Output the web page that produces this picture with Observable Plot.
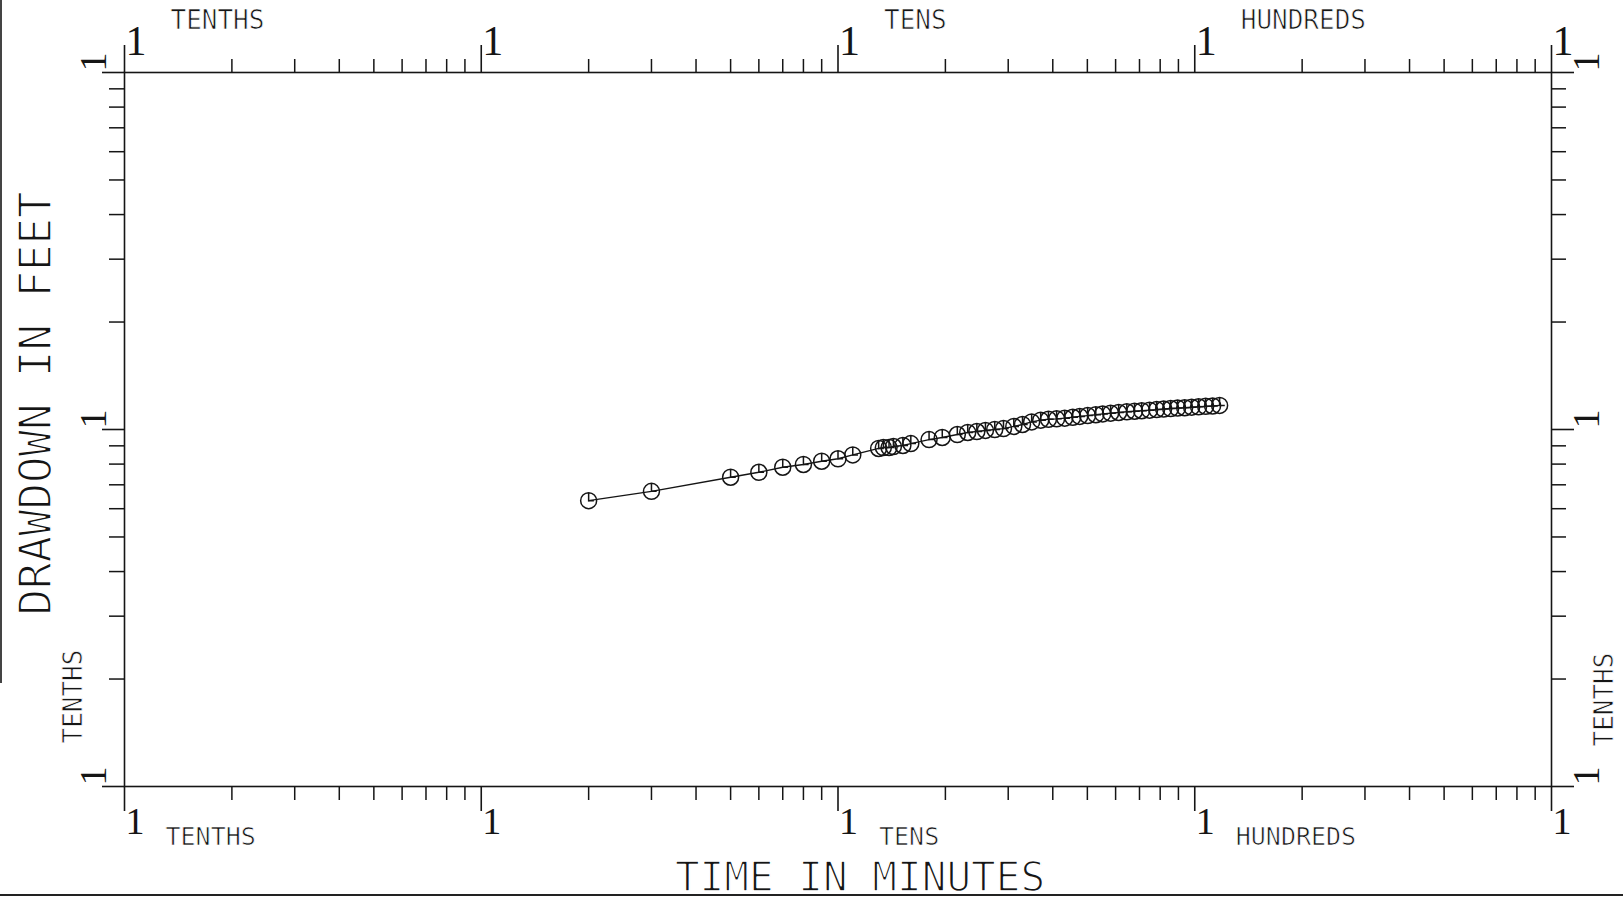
<!DOCTYPE html>
<html>
<head>
<meta charset="utf-8">
<script src="https://cdn.jsdelivr.net/npm/d3@7"></script>
<script src="https://cdn.jsdelivr.net/npm/@observablehq/plot@0.6"></script>
<style>
  html, body { margin: 0; padding: 0; background: #fff; }
  #wrap { position: relative; width: 1623px; height: 900px; overflow: hidden; background: #fff; }
  #chart svg { display: block; }
  #edgeL { position: absolute; left: 0; top: 0; width: 2px; height: 683px; background: #444; }
  #edgeB { position: absolute; left: 0; top: 894px; width: 1623px; height: 2px; background: #222; }
</style>
</head>
<body>
<div id="wrap"><div id="chart"></div><div id="edgeL"></div><div id="edgeB"></div></div>
<script>
// ---- data (time in minutes, drawdown in feet) ----
const timeMin = [2, 3, 5, 6, 7, 8, 9, 10, 11, 13, 13.4, 13.9, 14.3, 15.2, 16, 18, 19.6, 21.6, 23.1,
  24.5, 25.9, 27.5, 29.1, 31.1, 32.9, 34.9, 37, 38.9, 41, 43.2, 45.5, 47.6, 50.1, 52.8, 55.2, 58.1,
  61.2, 64.5, 67.8, 71, 74.7, 78.2, 81.8, 85.6, 89.5, 93.7, 98, 102.5, 107.3, 112.2, 117.4];
const drawdownFt = [0.632, 0.671, 0.735, 0.759, 0.784, 0.798, 0.815, 0.828, 0.849, 0.885, 0.890, 0.890,
  0.896, 0.902, 0.913, 0.937, 0.950, 0.968, 0.981, 0.987, 0.994, 1.000, 1.006, 1.020, 1.033, 1.050,
  1.062, 1.068, 1.071, 1.076, 1.082, 1.088, 1.094, 1.100, 1.106, 1.111, 1.116, 1.121, 1.125, 1.129,
  1.133, 1.137, 1.141, 1.145, 1.148, 1.151, 1.155, 1.158, 1.161, 1.164, 1.168];

// ---- axis tick values and labels ----
const xMajor = [0.1, 1, 10, 100, 1000];
const yMajor = [0.1, 1, 10];
const minorMultipliers = [2, 3, 4, 5, 6, 7, 8, 9];
const majorLabel = "1";
const xDecadeNames = ["TENTHS", "TENS", "HUNDREDS"];
const xDecadeStarts = [0.1, 10, 100];
const yDecadeNames = ["TENTHS"];
const yDecadeStarts = [0.1];
const xTitle = "TIME IN MINUTES";
const yTitle = "DRAWDOWN IN FEET";

// ---- tables built from the arrays ----
const points = timeMin.map((t, i) => ({t, s: drawdownFt[i]}));
const xMinor = xMajor.slice(0, -1).flatMap(d => minorMultipliers.map(m => d * m));
const yMinor = yMajor.slice(0, -1).flatMap(d => minorMultipliers.map(m => d * m));
const xNames = xDecadeNames.map((name, i) => ({name, at: xDecadeStarts[i]}));
const yNames = yDecadeNames.map((name, i) => ({name, at: yDecadeStarts[i]}));

const ink = "#151515";
const mono = "DejaVu Sans Mono, monospace";
const serif = "Liberation Serif, DejaVu Serif, serif";
// thin the sans glyphs a little (plotter pen look)
const thinSmall = {stroke: "#fff", strokeWidth: 0.7, paintOrder: "normal"};
const thinLarge = {stroke: "#fff", strokeWidth: 1.5, paintOrder: "normal"};

// plotter-style observation marker: circle with a "clock hand"
const obsSymbol = {
  draw(ctx, size) {
    const r = Math.sqrt(size / Math.PI);
    ctx.moveTo(r, 0);
    ctx.arc(0, 0, r, 0, 2 * Math.PI);
    ctx.moveTo(0, -r);
    ctx.lineTo(0, 0);
    ctx.lineTo(r * 0.65, 0);
  }
};

const noText = () => "";
const chart = Plot.plot({
  width: 1623,
  height: 900,
  marginLeft: 124,
  marginRight: 72,
  marginTop: 72,
  marginBottom: 114,
  x: {type: "log", domain: [0.1, 1000]},
  y: {type: "log", domain: [0.1, 10]},
  style: {fontFamily: mono, color: ink, background: "#fff", overflow: "visible"},
  marks: [
    Plot.frame({stroke: ink, strokeWidth: 1.6}),
    // top axis
    Plot.axisX({anchor: "top", ticks: xMajor, tickSize: 28, tickFormat: noText, label: null, strokeWidth: 1.6}),
    Plot.axisX({anchor: "top", ticks: xMinor, tickSize: 14, tickFormat: noText, label: null, strokeWidth: 1.5}),
    // bottom axis
    Plot.axisX({anchor: "bottom", ticks: xMajor, tickSize: 25, tickFormat: noText, label: null, strokeWidth: 1.6}),
    Plot.axisX({anchor: "bottom", ticks: xMinor, tickSize: 14, tickFormat: noText, label: null, strokeWidth: 1.5}),
    // left axis
    Plot.axisY({anchor: "left", ticks: yMajor, tickSize: 22, tickFormat: noText, label: null, strokeWidth: 1.6}),
    Plot.axisY({anchor: "left", ticks: yMinor, tickSize: 15, tickFormat: noText, label: null, strokeWidth: 1.5}),
    // right axis
    Plot.axisY({anchor: "right", ticks: yMajor, tickSize: 22, tickFormat: noText, label: null, strokeWidth: 1.6}),
    Plot.axisY({anchor: "right", ticks: yMinor, tickSize: 14, tickFormat: noText, label: null, strokeWidth: 1.5}),

    // "1" labels at each cycle
    Plot.text(xMajor, {x: d => d, frameAnchor: "top", text: () => majorLabel, textAnchor: "start",
      lineAnchor: "bottom", dx: 1, dy: -18, fontSize: 42, fontFamily: serif, fill: ink}),
    Plot.text(xMajor, {x: d => d, frameAnchor: "bottom", text: () => majorLabel, textAnchor: "start",
      lineAnchor: "bottom", dx: 1, dy: 47, fontSize: 38, fontFamily: serif, fill: ink}),
    Plot.text(yMajor, {y: d => d, frameAnchor: "left", text: () => majorLabel, rotate: -90, textAnchor: "start",
      lineAnchor: "bottom", dx: -19, dy: -1, fontSize: 38, fontFamily: serif, fill: ink}),
    Plot.text(yMajor, {y: d => d, frameAnchor: "right", text: () => majorLabel, rotate: -90, textAnchor: "start",
      lineAnchor: "bottom", dx: 47, dy: -1, fontSize: 38, fontFamily: serif, fill: ink}),

    // cycle names
    Plot.text(xNames, {x: "at", text: "name", frameAnchor: "top", textAnchor: "start", lineAnchor: "bottom",
      dx: 46, dy: -44, fontSize: 26, fill: ink, ...thinSmall}),
    Plot.text(xNames, {x: "at", text: "name", frameAnchor: "bottom", textAnchor: "start", lineAnchor: "bottom",
      dx: 41, dy: 58, fontSize: 25, fill: ink, ...thinSmall}),
    Plot.text(yNames, {y: "at", text: "name", frameAnchor: "left", rotate: -90, textAnchor: "start",
      lineAnchor: "bottom", dx: -43, dy: -43, fontSize: 26, fill: ink, ...thinSmall}),
    Plot.text(yNames, {y: "at", text: "name", frameAnchor: "right", rotate: -90, textAnchor: "start",
      lineAnchor: "bottom", dx: 61, dy: -40, fontSize: 26, fill: ink, ...thinSmall}),

    // axis titles
    Plot.text([xTitle], {text: d => d, frameAnchor: "bottom", lineAnchor: "bottom", textAnchor: "middle",
      dx: 22, dy: 104, fontSize: 41, fill: ink, ...thinLarge}),
    Plot.text([yTitle], {text: d => d, frameAnchor: "left", rotate: -90, lineAnchor: "bottom", textAnchor: "middle",
      dx: -74, dy: -26, fontSize: 44, fill: ink, ...thinLarge}),

    // data
    Plot.line(points, {x: "t", y: "s", stroke: ink, strokeWidth: 1.4}),
    Plot.dot(points, {x: "t", y: "s", r: 8, symbol: obsSymbol, stroke: ink, strokeWidth: 1.5, fill: "none"})
  ]
});
document.getElementById("chart").appendChild(chart);
</script>
</body>
</html>
